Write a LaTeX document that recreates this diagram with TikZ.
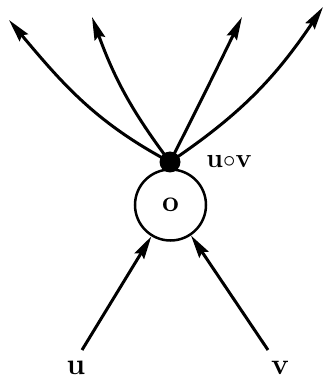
\documentclass[tikz,border=0pt]{standalone}
\usepackage{fontspec}
\usetikzlibrary{arrows.meta}
\begin{document}
\begin{tikzpicture}[x=1bp,y=1bp,
  conn/.style={line width=3bp,-{Stealth[length=23bp,width=11bp,inset=3bp]}},
  lbl/.style={font=\fontsize{30}{34}\selectfont\bfseries,inner sep=0pt},
  opcircle/.style={circle,draw,line width=2.5bp,minimum size=71bp,inner sep=0pt,font=\fontsize{30}{34}\selectfont\bfseries},
  dotnode/.style={circle,fill,minimum size=21bp,inner sep=0pt}]
\useasboundingbox (0,0) rectangle (326,379);
\node[opcircle] (c) at (170.5,174) {o};
\node[dotnode] (d) at (170,217) {};
\node[lbl,font=\fontsize{27}{30}\selectfont\bfseries] (uv) at (229,217) {u$\circ$v};
\node[lbl] (u) at (76,11) {u};
\node[lbl] (v) at (280,11) {v};
\coordinate (us) at (82,29);
\coordinate (vs) at (268,29);
\coordinate (t1) at (9,359);
\coordinate (t2) at (92,362);
\coordinate (t3) at (242,362);
\coordinate (t4) at (323,372);
\draw[conn] (us) -- (c);
\draw[conn] (vs) -- (c);
\draw[conn] (d.center) to[out=152,in=-50] (t1);
\draw[conn] (d.center) to[out=127,in=-70] (t2);
\draw[conn] (d.center) to[out=63,in=-116] (t3);
\draw[conn] (d.center) to[out=34,in=-124] (t4);
\end{tikzpicture}
\end{document}
